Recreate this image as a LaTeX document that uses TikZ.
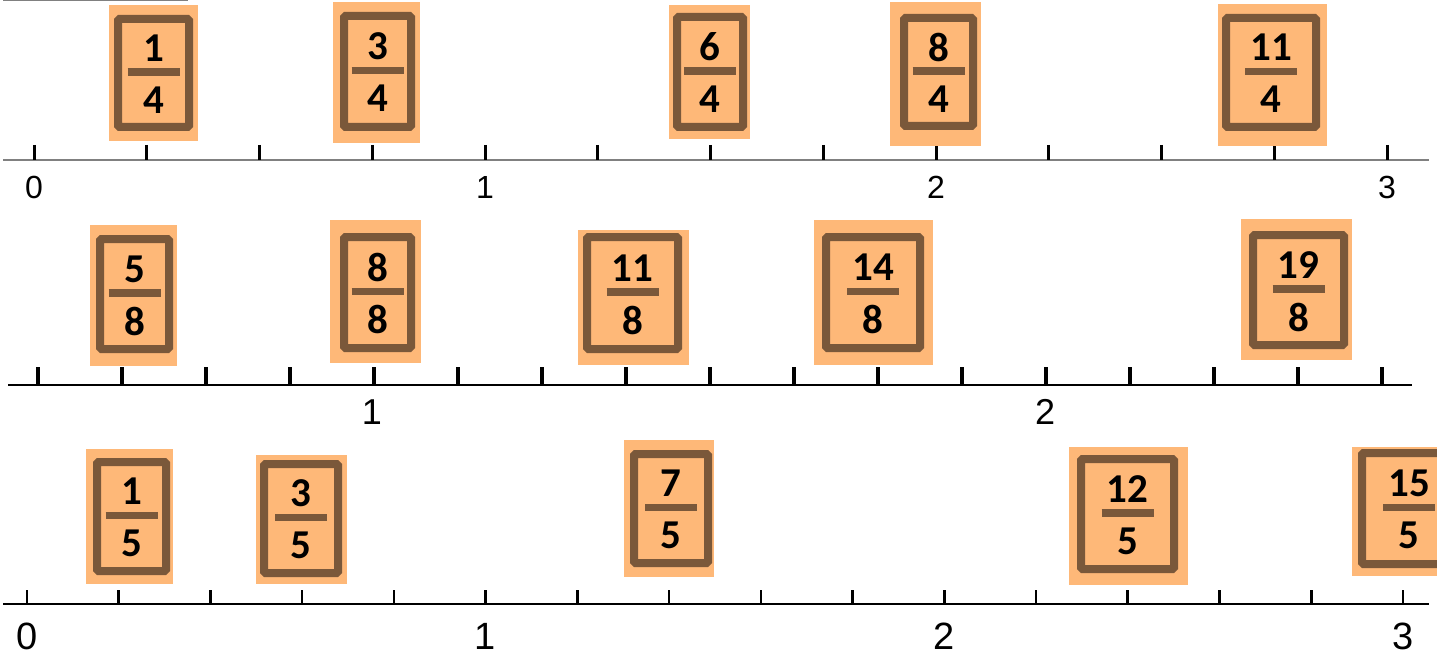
\documentclass[tikz,border=0pt]{standalone}
\usepackage{fontspec}
\setmainfont{Liberation Sans}
\newfontfamily\cardfont{Carlito}
\usetikzlibrary{calc}
\definecolor{cardbg}{RGB}{254,184,120}
\definecolor{cardframe}{RGB}{122,88,58}
\definecolor{axisgrey}{RGB}{128,128,128}
\tikzset{
  frame/.style={draw=cardframe, line width=8pt, rounded corners=1.5pt},
  fbar/.style={draw=cardframe, line width=7.5pt},
  digit/.style={font=\cardfont\bfseries\fontsize{41}{41}\selectfont, inner sep=0pt, text=black},
  axisA/.style={draw=axisgrey, line width=2pt},
  axisB/.style={draw=black, line width=2.2pt},
  tickA/.style={draw=black, line width=3pt},
  tickB/.style={draw=black, line width=3.5pt},
  tickC/.style={draw=black, line width=2.6pt},
  labA/.style={font=\fontsize{32}{32}\selectfont, inner sep=0pt},
  labB/.style={font=\fontsize{36}{36}\selectfont, inner sep=0pt},
  labC/.style={font=\fontsize{38}{38}\selectfont, inner sep=0pt},
}
\newcommand\fcard[7]{%
  \fill[cardbg] (#2) rectangle (#3);
  \draw[frame] ([shift={(4,4)}]#4) rectangle ([shift={(-4,-4)}]#5);
  \coordinate (#1) at ($(#4)!0.5!(#5)$);
  \node[digit] (#1n) at ([shift={(0,-25)}]#1) {#6};
  \draw[fbar] ([shift={(-26,-1)}]#1) -- ([shift={(26,-1)}]#1);
  \node[digit] (#1d) at ([shift={(0,27)}]#1) {#7};
}
\begin{document}
\begin{tikzpicture}[x=1pt,y=-1pt]
\useasboundingbox (0,0) rectangle (1437,655);
\clip (0,0) rectangle (1437,655);
\fill[white] (0,0) rectangle (1437,655);
% cropped remnants at top edge
\draw[axisgrey, line width=2pt] (3,0.5) -- (188,0.5);
\fill[axisgrey] (1023,0) arc[start angle=180, end angle=360, x radius=7, y radius=2.2] -- cycle;

% ---------- row 1 : quarters ----------
\draw[axisA] (3,160) -- (1429,160);
\foreach \i in {0,...,12} \draw[tickA] ({34+\i*112.75},145) -- ({34+\i*112.75},160);
\node[labA] (r1l0) at (34,187) {0};
\node[labA] (r1l1) at (485,187) {1};
\node[labA] (r1l2) at (936,187) {2};
\node[labA] (r1l3) at (1387,187) {3};
\fcard{c14}{109,5}{198,141}{114,15}{193,131}{1}{4}
\fcard{c34}{333,2}{420,143}{340,12}{415,131}{3}{4}
\fcard{c64}{669,5}{750,139}{673,13}{747,131}{6}{4}
\fcard{c84}{890,2}{981,146}{900,14}{977,130}{8}{4}
\fcard{c114}{1218,4}{1327,146}{1222,14}{1320,131}{11}{4}

% ---------- row 2 : eighths ----------
\draw[axisB] (8,385) -- (1412,385);
\foreach \i in {0,...,16} \draw[tickB] ({38+\i*84},367) -- ({38+\i*84},385);
\node[labB] (r2l1) at (372,412) {1};
\node[labB] (r2l2) at (1045,412) {2};
\fcard{c58}{90,225}{177,366}{96,235}{173,353}{5}{8}
\fcard{c88}{330,220}{421,363}{340,233}{415,352}{8}{8}
\fcard{c118}{578,230}{689,365}{583,233}{682,353}{11}{8}
\fcard{c148}{814,220}{933,365}{822,233}{924,352}{14}{8}
\fcard{c198}{1241,219}{1352,360}{1249,231}{1348,349}{19}{8}

% ---------- row 3 : fifths ----------
\draw[axisB] (3,604) -- (1429,604);
\foreach \i in {0,...,15} \draw[tickC] ({27+\i*91.73},590) -- ({27+\i*91.73},604);
\node[labC] (r3l0) at (27,636) {0};
\node[labC] (r3l1) at (485,636) {1};
\node[labC] (r3l2) at (944,636) {2};
\node[labC] (r3l3) at (1403,636) {3};
\fcard{c15}{86,449}{173,584}{93,458}{170,575}{1}{5}
\fcard{c35}{256,455}{347,584}{260,460}{342,577}{3}{5}
\fcard{c75}{624,440}{714,577}{630,450}{712,567}{7}{5}
\fcard{c125}{1069,447}{1188,585}{1077,455}{1178,573}{12}{5}
\fcard{c155}{1352,447}{1460,576}{1358,449}{1460,568}{15}{5}
\end{tikzpicture}
\end{document}
